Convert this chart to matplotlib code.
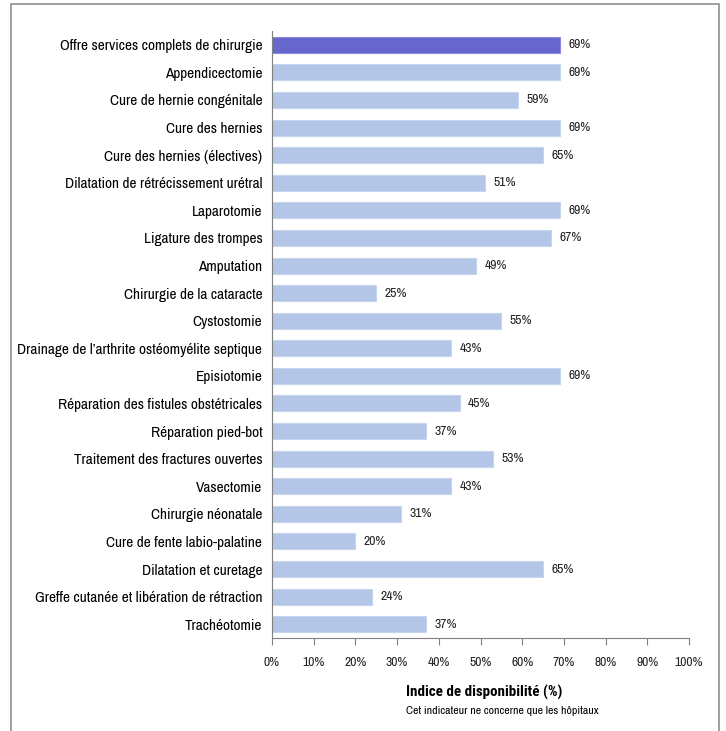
import matplotlib.pyplot as plt
from matplotlib.patches import Rectangle

# Chirurgie - indices de disponibilite
categories = [
    "Offre services complets de chirurgie",
    "Appendicectomie",
    "Cure de hernie congénitale",
    "Cure des hernies",
    "Cure des hernies (électives)",
    "Dilatation de rétrécissement urétral",
    "Laparotomie",
    "Ligature des trompes",
    "Amputation",
    "Chirurgie de la cataracte",
    "Cystostomie",
    "Drainage de l\u2019arthrite ostéomyélite septique",
    "Episiotomie",
    "Réparation des fistules obstétricales",
    "Réparation pied-bot",
    "Traitement des fractures ouvertes",
    "Vasectomie",
    "Chirurgie néonatale",
    "Cure de fente labio-palatine",
    "Dilatation et curetage",
    "Greffe cutanée et libération de rétraction",
    "Trachéotomie",
]
values = [69, 69, 59, 69, 65, 51, 69, 67, 49, 25, 55, 43, 69, 45, 37, 53, 43, 31, 20, 65, 24, 37]
xticks = [0, 10, 20, 30, 40, 50, 60, 70, 80, 90, 100]

plt.rcParams["font.family"] = ["Archivo Narrow", "DejaVu Sans"]
bold_font = ["Roboto Condensed", "DejaVu Sans"]

fig = plt.figure(figsize=(7.26, 7.31), dpi=100)
ax = fig.add_axes([272/726, 1 - 638/731, 417/726, 607/731])

# gray frame around the chart
fig.patches.append(Rectangle((11/726, -0.05), 708/726, 1.05 - 4/731, transform=fig.transFigure,
                             fill=False, edgecolor="#909090", linewidth=1.2))
fig.text(497/726, 1 + 7/731, "Services de chirurgie (2014)", ha="right", va="baseline",
         fontsize=14, fontweight="bold", family=bold_font)

colors = ["#6666CC"] + ["#B3C6E7"] * (len(values) - 1)
edges = ["#8A8AE0"] + ["#C6D4EE"] * (len(values) - 1)
ypos = list(range(len(categories)))
ax.barh(ypos, values, height=0.58, color=colors, edgecolor=edges, linewidth=0.8)

for y, v in zip(ypos, values):
    ax.text(v + 2.0, y, f"{v}%", va="center", ha="left", fontsize=9.8, color="#222222")

ax.set_ylim(len(categories) - 0.5, -0.5)
ax.set_yticks(ypos)
ax.set_yticklabels(categories, fontsize=11)
ax.tick_params(axis="y", length=0, pad=7)

ax.set_xlim(0, 100)
ax.set_xticks(xticks)
ax.set_xticklabels([f"{t}%" for t in xticks], fontsize=9.8, color="#222222")
ax.tick_params(axis="x", direction="out", length=5, width=0.8, color="#808080", pad=9)

for s in ["top", "right"]:
    ax.spines[s].set_visible(False)
for s in ["left", "bottom"]:
    ax.spines[s].set_color("#808080")
    ax.spines[s].set_linewidth(0.8)

fig.text(406/726, 1 - 692/731, "Indice de disponibilité (%)", ha="left", va="center",
         fontsize=10.8, fontweight="bold", family=bold_font)
fig.text(406/726, 1 - 711/731, "Cet indicateur ne concerne que les hôpitaux", ha="left",
         va="center", fontsize=8.5)

fig.savefig("out.png", dpi=100)
